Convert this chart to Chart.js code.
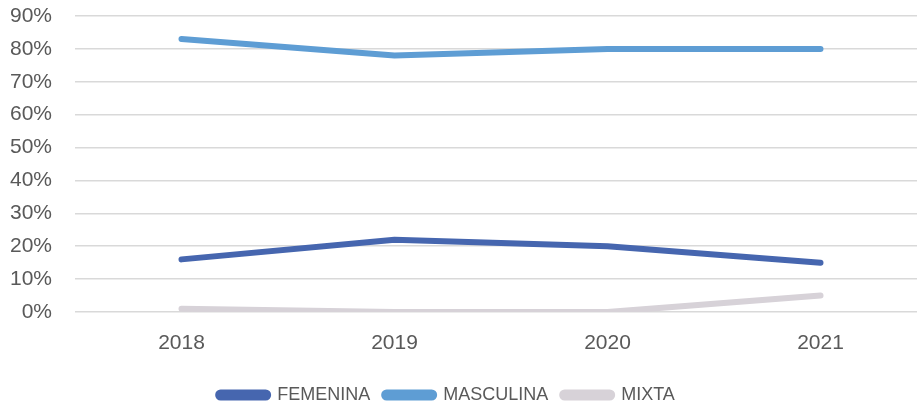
<!DOCTYPE html>
<html>
<head>
<meta charset="utf-8">
<script src="https://cdn.jsdelivr.net/npm/chart.js@4"></script>
<style>
  html, body { margin: 0; padding: 0; background: #fff; overflow: hidden; }
  #wrap { width: 927px; height: 412px; }
</style>
</head>
<body>
<div id="wrap">
  <canvas id="chart" width="927" height="412"></canvas>
</div>
<script>
// categories and series (percent)
const years = ['2018', '2019', '2020', '2021'];
const femenina = [16, 22, 20, 15];
const masculina = [83, 78, 80, 80];
const mixta = [1, 0, 0, 5];
const yTicks = [0, 10, 20, 30, 40, 50, 60, 70, 80, 90];

const textColor = '#595959';
const fontFamily = "'Liberation Sans', Arial, sans-serif";

function series(label, values, color) {
  return {
    label: label,
    data: values,
    borderColor: color,
    backgroundColor: color,
    borderWidth: 6,
    borderCapStyle: 'round',
    borderJoinStyle: 'round',
    pointRadius: 0,
    pointHoverRadius: 0,
    tension: 0,
  };
}

// nudge the legend a bit left, like the original
const legendShift = {
  id: 'legendShift',
  afterLayout(chart) {
    chart.legend.left -= 22;
    chart.legend.right -= 22;
  },
};

const chart = new Chart(document.getElementById('chart'), {
  type: 'line',
  data: {
    labels: years,
    datasets: [
      series('FEMENINA', femenina, '#4666AF'),
      series('MASCULINA', masculina, '#5E9DD4'),
      series('MIXTA', mixta, '#D7D2D8'),
    ],
  },
  plugins: [legendShift],
  options: {
    responsive: false,
    animation: false,
    layout: { padding: { left: 10, right: 0, top: 0, bottom: -2 } },
    plugins: {
      tooltip: { enabled: false },
      legend: {
        position: 'bottom',
        labels: {
          color: textColor,
          font: { family: fontFamily, size: 18 },
          boxWidth: 50,
          boxHeight: 5,
          useBorderRadius: true,
          borderRadius: 2.5,
          padding: 14,
        },
      },
    },
    scales: {
      x: {
        offset: true,
        grid: { display: false },
        border: { display: false },
        afterFit: (axis) => { axis.height = 60; },
        ticks: {
          color: textColor,
          font: { family: fontFamily, size: 21 },
          padding: 11,
        },
      },
      y: {
        min: 0,
        max: 90,
        afterBuildTicks: (axis) => { axis.ticks = yTicks.map(v => ({ value: v })); },
        afterFit: (axis) => {
          axis.width = 65;
          axis.paddingTop = 16;
          axis.paddingBottom = 13;
        },
        grid: { color: '#d9d9d9', lineWidth: 1.5, drawTicks: false },
        border: { display: false },
        ticks: {
          color: textColor,
          font: { family: fontFamily, size: 21 },
          padding: 23,
          callback: (v) => v + '%',
        },
      },
    },
  },
});
</script>
</body>
</html>
